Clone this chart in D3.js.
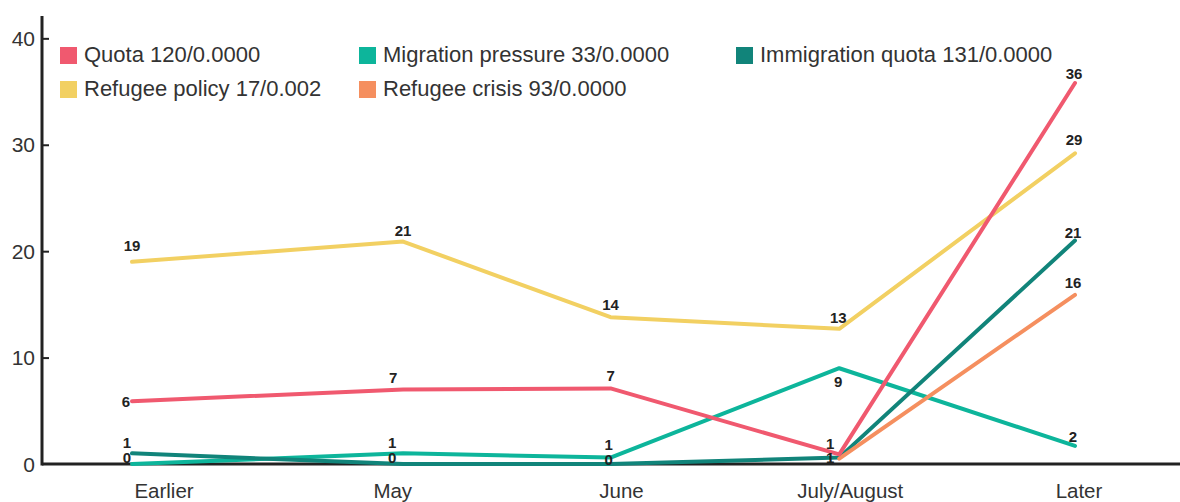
<!DOCTYPE html>
<html>
<head>
<meta charset="utf-8">
<script src="https://cdn.jsdelivr.net/npm/d3@7"></script>
<style>
  html, body { margin: 0; padding: 0; background: #fff; }
  svg { display: block; }
</style>
</head>
<body>
<svg id="chart" width="1180" height="502"></svg>
<script>
// ---- data ----
const periods = ["Earlier", "May", "June", "July/August", "Later"];
const periodPos = [0, 1.15, 2.03, 3.0, 4.0];
const yTicks = [0, 10, 20, 30, 40];

const seriesNames = [
  "Quota 120/0.0000",
  "Migration pressure 33/0.0000",
  "Immigration quota 131/0.0000",
  "Refugee policy 17/0.002",
  "Refugee crisis 93/0.0000"
];
const quota        = [5.9, 7.0, 7.1, 0.9, 35.8];
const migration    = [0.0, 1.0, 0.6, 9.0, 1.7];
const immigration  = [1.0, 0.0, 0.0, 0.6, 21.0];
const refugeePol   = [19.0, 20.9, 13.8, 12.7, 29.2];
const refugeeCris  = [null, null, null, 0.5, 15.9];

// ---- styling ----
const colors = ["#f0596f", "#0db59b", "#11847a", "#f2d062", "#f58f5f"];
const allValues = [quota, migration, immigration, refugeePol, refugeeCris];
const drawOrder = [3, 1, 2, 4, 0];

// label offsets [dx, dy] relative to point (baseline), default [0,-7]; null = hidden (overlapped in reference)
const labelOffsets = {
  "0:0": [-6, 6], "0:1": [-10, -7], "0:2": [0, -7], "0:3": [-9, -5], "0:4": [-1, -4],
  "1:0": [-5, -1], "1:1": [-11, -5], "1:2": [-2, -8], "1:3": [-1, 19], "1:4": [-2, -4],
  "2:0": [-5, -5], "2:1": [-11, -1], "2:2": [-2, 1], "2:3": [-9, 5], "2:4": [-2, -3],
  "3:0": [0, -11], "3:1": [0, -6], "3:2": [0, -7], "3:3": [-1, -6], "3:4": [-1, -8],
  "4:3": null, "4:4": [-2, -7]
};

const svg = d3.select("#chart");
const x = d3.scaleLinear().domain([0, 4]).range([132, 1075]);
const xLab = d3.scalePoint().domain(periods).range([164, 1079]);
const y = d3.scaleLinear().domain([0, 42.1]).range([464, 16]);

const font = "'Liberation Sans', Arial, sans-serif";

// y axis
const yAxis = d3.axisRight(y).tickValues(yTicks.filter(d => d > 0)).tickSize(7).tickFormat("");
const gy = svg.append("g").attr("transform", "translate(42,0)").call(yAxis);
gy.select(".domain").remove();
gy.selectAll(".tick line").attr("stroke", "#222").attr("stroke-width", 2);

svg.append("line").attr("x1", 42).attr("x2", 42).attr("y1", y.range()[1]).attr("y2", y(0) + 1.5)
  .attr("stroke", "#222").attr("stroke-width", 3);

svg.append("g").selectAll("text").data(yTicks).join("text")
  .attr("x", 35).attr("y", d => y(d)).attr("dy", "0.36em")
  .attr("text-anchor", "end")
  .attr("font-family", font).attr("font-size", 21).attr("fill", "#333")
  .text(d => d);

// x axis
svg.append("line").attr("x1", 42).attr("x2", 1180).attr("y1", y(0)).attr("y2", y(0))
  .attr("stroke", "#222").attr("stroke-width", 3);

svg.append("g").selectAll("text").data(periods).join("text")
  .attr("x", d => xLab(d)).attr("y", 498)
  .attr("text-anchor", "middle")
  .attr("font-family", font).attr("font-size", 20.5).attr("fill", "#333")
  .text(d => d);

// lines
const line = d3.line()
  .defined(d => d.v !== null)
  .x(d => x(d.p)).y(d => y(d.v));

drawOrder.forEach(si => {
  const pts = allValues[si].map((v, i) => ({ p: periodPos[i], v }));
  svg.append("path").datum(pts)
    .attr("d", line)
    .attr("fill", "none")
    .attr("stroke", colors[si])
    .attr("stroke-width", 4)
    .attr("stroke-linejoin", "round")
    .attr("stroke-linecap", "round");
});

// labels
const labels = [];
allValues.forEach((arr, si) => arr.forEach((v, i) => {
  if (v === null) return;
  const key = si + ":" + i;
  const off = key in labelOffsets ? labelOffsets[key] : [0, -7];
  if (off === null) return;
  labels.push({ x: x(periodPos[i]) + off[0], y: y(v) + off[1], t: Math.round(v) });
}));
svg.append("g").selectAll("text").data(labels).join("text")
  .attr("x", d => d.x).attr("y", d => d.y)
  .attr("text-anchor", "middle")
  .attr("font-family", font).attr("font-size", 15).attr("font-weight", "bold")
  .attr("fill", "#222")
  .text(d => d.t);

// legend
const legendPos = [[60, 47], [359, 47], [736, 47], [60, 81], [359, 81]];
const lg = svg.append("g").selectAll("g").data(seriesNames).join("g")
  .attr("transform", (d, i) => `translate(${legendPos[i][0]},${legendPos[i][1]})`);
lg.append("rect").attr("width", 17).attr("height", 17).attr("fill", (d, i) => colors[i]);
lg.append("text").attr("x", 24).attr("y", 15)
  .attr("font-family", font).attr("font-size", 22).attr("fill", "#333")
  .text(d => d);
</script>
</body>
</html>
